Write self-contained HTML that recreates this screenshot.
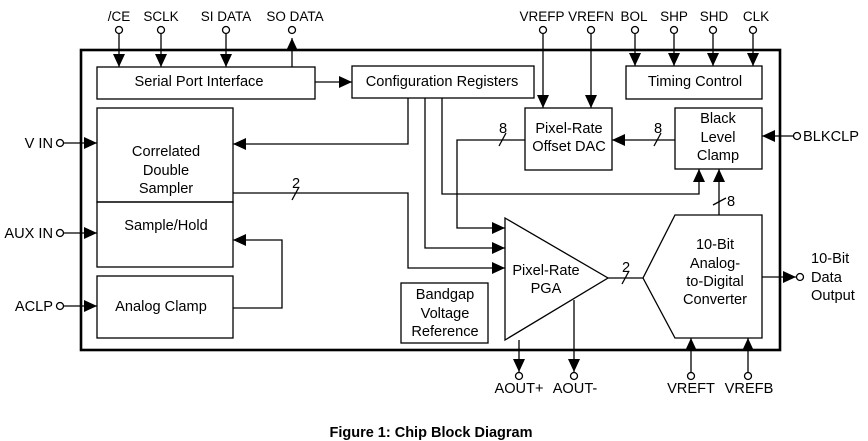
<!DOCTYPE html>
<html><head><meta charset="utf-8"><style>
html,body{margin:0;padding:0;background:#fff;}
svg{display:block;}
text{font-family:"Liberation Sans",Arial,sans-serif;font-size:14.6px;fill:#000;}
.p{font-size:13.5px;}
</style></head><body>
<svg width="868" height="441" viewBox="0 0 868 441" xmlns="http://www.w3.org/2000/svg">
<defs>
<marker id="a" markerWidth="14" markerHeight="12" refX="13" refY="6" orient="auto" markerUnits="userSpaceOnUse">
<polygon points="0,0 13,6 0,12" fill="#000"/></marker>
</defs>
<g fill="none" stroke="#000" stroke-width="1.3">
<rect x="81" y="50" width="699" height="300" stroke-width="2.6"/>
<rect x="97" y="67" width="218" height="32"/>
<rect x="352" y="66" width="182" height="32"/>
<rect x="626" y="66" width="136" height="33"/>
<rect x="525" y="108" width="87" height="62"/>
<rect x="675" y="108" width="87" height="61"/>
<rect x="97" y="108" width="136" height="94"/>
<rect x="97" y="202" width="136" height="65"/>
<rect x="97" y="276" width="136" height="62"/>
<rect x="401" y="283" width="87" height="60"/>
<polygon points="505,218 608,278 505,340"/>
<polygon points="675,215 762,215 762,338 675,338 643,278"/>
<line x1="119" y1="34" x2="119" y2="67" marker-end="url(#a)"/>
<line x1="161" y1="34" x2="161" y2="67" marker-end="url(#a)"/>
<line x1="226" y1="34" x2="226" y2="67" marker-end="url(#a)"/>
<line x1="292" y1="67" x2="292" y2="38" marker-end="url(#a)"/>
<line x1="543" y1="34" x2="543" y2="108" marker-end="url(#a)"/>
<line x1="591" y1="34" x2="591" y2="108" marker-end="url(#a)"/>
<line x1="635" y1="34" x2="635" y2="66" marker-end="url(#a)"/>
<line x1="674" y1="34" x2="674" y2="66" marker-end="url(#a)"/>
<line x1="713" y1="34" x2="713" y2="66" marker-end="url(#a)"/>
<line x1="753" y1="34" x2="753" y2="66" marker-end="url(#a)"/>
<circle cx="119" cy="30" r="3.5"/><circle cx="161" cy="30" r="3.5"/><circle cx="226" cy="30" r="3.5"/><circle cx="292" cy="30" r="3.5"/>
<circle cx="543" cy="30" r="3.5"/><circle cx="591" cy="30" r="3.5"/><circle cx="635" cy="30" r="3.5"/><circle cx="674" cy="30" r="3.5"/><circle cx="713" cy="30" r="3.5"/><circle cx="753" cy="30" r="3.5"/>
<line x1="315" y1="82" x2="352" y2="82" marker-end="url(#a)"/>
<circle cx="60" cy="143" r="3.5"/><line x1="64" y1="143" x2="97" y2="143" marker-end="url(#a)"/>
<circle cx="60" cy="233" r="3.5"/><line x1="64" y1="233" x2="97" y2="233" marker-end="url(#a)"/>
<circle cx="60" cy="306" r="3.5"/><line x1="64" y1="306" x2="97" y2="306" marker-end="url(#a)"/>
<polyline points="233,308 282,308 282,240 233,240" marker-end="url(#a)"/>
<polyline points="408,98 408,144 233,144" marker-end="url(#a)"/>
<polyline points="425,98 425,248 505,248" marker-end="url(#a)"/>
<polyline points="442,98 442,194 699,194 699,169" marker-end="url(#a)"/>
<polyline points="233,193 408,193 408,268 505,268" marker-end="url(#a)"/>
<line x1="292" y1="200" x2="299" y2="187"/>
<polyline points="525,140 457,140 457,228 505,228" marker-end="url(#a)"/>
<line x1="499" y1="146" x2="506" y2="133"/>
<line x1="675" y1="140" x2="612" y2="140" marker-end="url(#a)"/>
<line x1="654" y1="146" x2="661" y2="133"/>
<circle cx="797" cy="136" r="3.5"/><line x1="793" y1="136" x2="762" y2="136" marker-end="url(#a)"/>
<line x1="719" y1="215" x2="719" y2="169" marker-end="url(#a)"/>
<line x1="713" y1="205" x2="726" y2="198"/>
<line x1="608" y1="278" x2="643" y2="278"/>
<line x1="622" y1="284" x2="629" y2="271"/>
<line x1="762" y1="277" x2="796" y2="277" marker-end="url(#a)"/>
<circle cx="800" cy="277" r="3.5"/>
<line x1="519" y1="340" x2="519" y2="372" marker-end="url(#a)"/><circle cx="519" cy="376" r="3.5"/>
<line x1="574" y1="300" x2="574" y2="372" marker-end="url(#a)"/><circle cx="574" cy="376" r="3.5"/>
<line x1="691" y1="372" x2="691" y2="338" marker-end="url(#a)"/><circle cx="691" cy="376" r="3.5"/>
<line x1="748" y1="372" x2="748" y2="338" marker-end="url(#a)"/><circle cx="748" cy="376" r="3.5"/>
</g>
<g text-anchor="middle">
<text class="p" x="119" y="21">/CE</text><text class="p" x="161" y="21">SCLK</text><text class="p" x="226" y="21">SI DATA</text><text class="p" x="295" y="21">SO DATA</text>
<text class="p" x="542" y="21">VREFP</text><text class="p" x="591" y="21">VREFN</text><text class="p" x="634" y="21">BOL</text><text class="p" x="674" y="21">SHP</text><text class="p" x="714" y="21">SHD</text><text class="p" x="756" y="21">CLK</text>
<text x="199" y="86">Serial Port Interface</text>
<text x="442" y="86">Configuration Registers</text>
<text x="695" y="86">Timing Control</text>
<text x="569" y="133">Pixel-Rate</text><text x="569" y="151">Offset DAC</text>
<text x="718" y="123">Black</text><text x="718" y="142">Level</text><text x="718" y="160">Clamp</text>
<text x="166" y="156">Correlated</text><text x="166" y="175">Double</text><text x="166" y="193">Sampler</text>
<text x="166" y="230">Sample/Hold</text>
<text x="161" y="311">Analog Clamp</text>
<text x="445" y="299">Bandgap</text><text x="445" y="318">Voltage</text><text x="445" y="336">Reference</text>
<text x="546" y="275">Pixel-Rate</text><text x="546" y="293">PGA</text>
<text x="715" y="249">10-Bit</text><text x="715" y="268">Analog-</text><text x="715" y="286">to-Digital</text><text x="715" y="304">Converter</text>
<text x="519" y="393">AOUT+</text><text x="575" y="393">AOUT-</text><text x="691" y="393">VREFT</text><text x="749" y="393">VREFB</text>
<text x="296" y="188">2</text><text x="503" y="133">8</text><text x="658" y="133">8</text><text x="626" y="272">2</text>
<text x="731" y="206">8</text>
</g>
<text x="53" y="148" text-anchor="end">V IN</text>
<text x="53" y="238" text-anchor="end">AUX IN</text>
<text x="53" y="311" text-anchor="end">ACLP</text>
<text x="803" y="141">BLKCLP</text>
<text x="811" y="263">10-Bit</text><text x="811" y="282">Data</text><text x="811" y="300">Output</text>
<text x="431" y="437" text-anchor="middle" style="font-weight:bold;font-size:14.5px">Figure 1: Chip Block Diagram</text>
</svg>
</body></html>
